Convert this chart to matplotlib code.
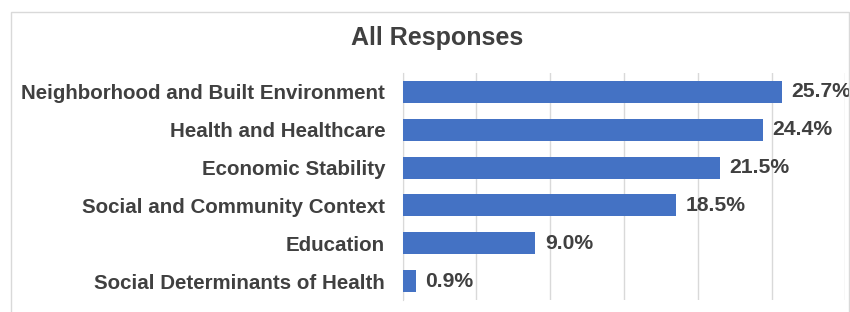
import matplotlib
matplotlib.use('Agg')
import matplotlib.pyplot as plt
from matplotlib.patches import Rectangle

# ── Data ──────────────────────────────────────────────────────
categories = [
    'Neighborhood and Built Environment',
    'Health and Healthcare',
    'Economic Stability',
    'Social and Community Context',
    'Education',
    'Social Determinants of Health',
]
values = [25.7, 24.4, 21.5, 18.5, 9.0, 0.9]

# ── Figure ────────────────────────────────────────────────────
plt.rcParams['font.family'] = ['Liberation Sans', 'DejaVu Sans']

W, H = 850, 312
fig = plt.figure(figsize=(W / 100, H / 100), dpi=100)
ax = fig.add_axes([402.5 / W, 1 - 300 / H, 443 / W, 227 / H])

ypos = list(range(len(categories)))
ax.barh(ypos, values, height=0.58, color='#4472C4', zorder=3)
ax.set_ylim(len(categories) - 0.5, -0.5)
ax.set_xlim(0, 30)
ax.set_xticks(range(0, 31, 5))
ax.tick_params(axis='x', length=0, labelbottom=False)
ax.tick_params(axis='y', length=0, pad=12.5)
ax.set_yticks(ypos)
ax.set_yticklabels(categories, fontsize=14.8, fontweight='bold', color='#404040')
ax.grid(axis='x', color='#d9d9d9', linewidth=1, zorder=0)
for s in ['top', 'right', 'bottom']:
    ax.spines[s].set_visible(False)
ax.spines['left'].set_color('#d9d9d9')

for y, v in zip(ypos, values):
    ax.text(v + 0.65, y, f'{v:.1f}%', va='center', ha='left',
            fontsize=15.2, fontweight='bold', color='#404040')

fig.text(437 / W, 1 - 38 / H, 'All Responses', ha='center', va='center',
         fontsize=18, fontweight='bold', color='#404040')

fig.add_artist(Rectangle((11 / W, -0.05), 838 / W, 1.05 - 12 / H,
                         transform=fig.transFigure, fill=False,
                         edgecolor='#d9d9d9', linewidth=1))

fig.savefig('out.png', dpi=100, facecolor='white')
plt.close()
